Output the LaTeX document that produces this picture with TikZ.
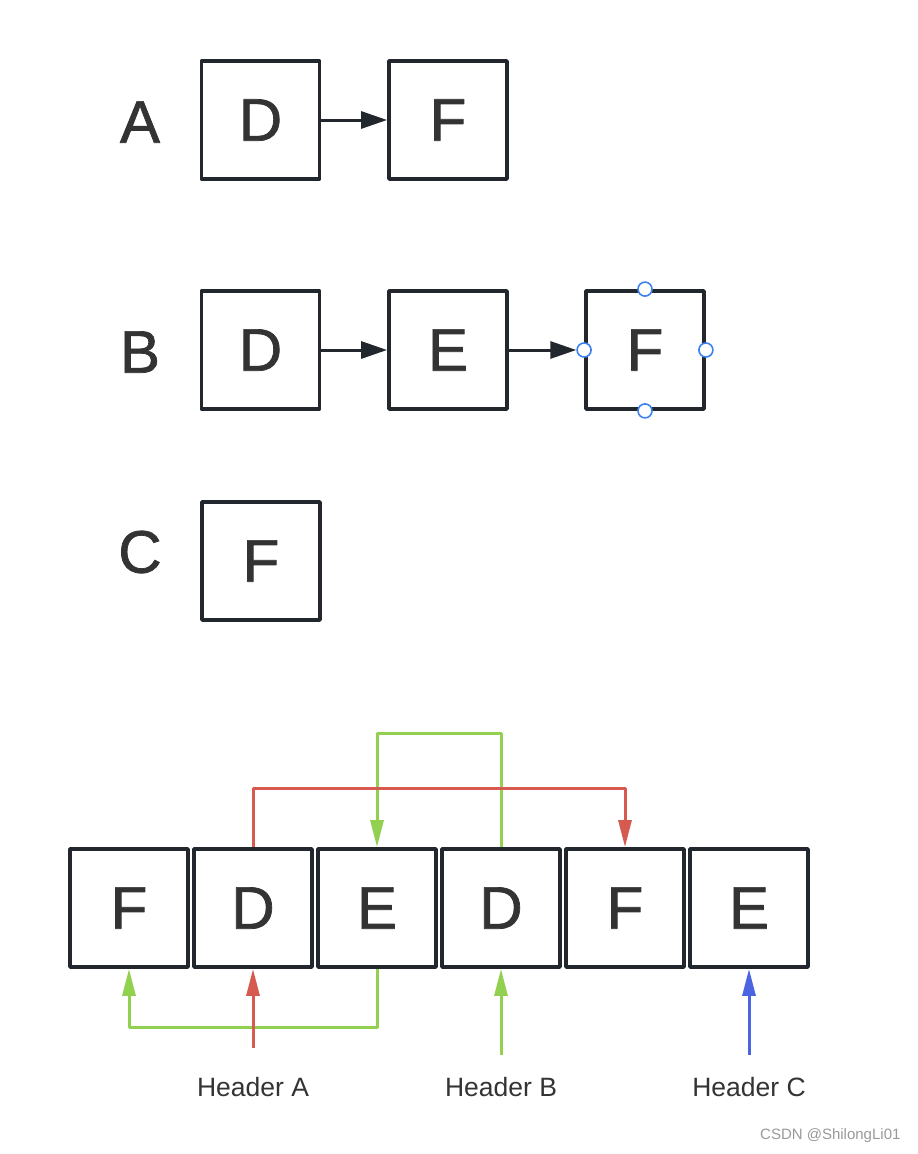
\documentclass[tikz,border=0pt]{standalone}
\usepackage{fontspec}
\setmainfont{Liberation Sans}
\newfontfamily\cellfont[FakeBold=1.2]{Liberation Sans}
\usetikzlibrary{arrows.meta, positioning}
\definecolor{boxline}{HTML}{22272E}
\definecolor{txt}{HTML}{333333}
\definecolor{linkred}{HTML}{D65A4F}
\definecolor{linkgreen}{HTML}{92D050}
\definecolor{linkblue}{HTML}{4B64E1}
\definecolor{handle}{HTML}{3C82F0}

\begin{document}
\begin{tikzpicture}[
  x=1pt, y=-1pt,
  every node/.style={text=txt},
  cell/.style={draw=boxline, line width=3.8pt, line join=round, minimum width=118pt, minimum height=118pt, inner sep=0pt, font=\cellfont\fontsize{60}{60}\selectfont},
  rowname/.style={font=\cellfont\fontsize{60}{60}\selectfont},
  handlept/.style={circle, draw=handle, fill=white, line width=1.6pt, minimum size=14pt, inner sep=0pt},
  arrow/.style={-{Triangle[length=26pt, width=17pt]}, line width=3pt, boxline},
  link/.style={-{Triangle[length=27pt, width=13pt]}, line width=3pt, line join=round},
  header/.style={font=\fontsize{26.5}{26.5}\selectfont},
]
\useasboundingbox (0,0) rectangle (918,1154);

% Row A
\node[rowname] (nameA) at (140,122) {A};
\node[cell] (aD) at (260.5,120) {D};
\node[cell] (aF) at (448,120) {F};
\draw[arrow] (aD.east) -- (aF.west);

% Row B
\node[rowname] (nameB) at (140,352) {B};
\node[cell] (bD) at (260.5,350) {D};
\node[cell] (bE) at (448,350) {E};
\node[cell] (bF) at (645,350) {F};
\node[handlept] (hN) at (bF.north) {};
\node[handlept] (hS) at (bF.south) {};
\node[handlept] (hE) at (bF.east) {};
\node[handlept] (hW) at (bF.west) {};
\draw[arrow] (bD.east) -- (bE.west);
\draw[arrow] (bE.east) -- (hW);

% Row C
\node[rowname] (nameC) at (140,552) {C};
\node[cell] (cF) at (261,561) {F};

% Memory row
\node[cell] (mF1) at (129,908) {F};
\node[cell] (mD1) at (253,908) {D};
\node[cell] (mE1) at (377,908) {E};
\node[cell] (mD2) at (501,908) {D};
\node[cell] (mF2) at (625,908) {F};
\node[cell] (mE2) at (749,908) {E};

% rails
\coordinate (topGreen) at (0,733);
\coordinate (topRed) at (0,788);
\coordinate (botGreen) at (0,1027);

\draw[link, linkgreen] (mD2.north) -- (mD2.north |- topGreen) -- (mE1.north |- topGreen) -- (mE1.north);
\draw[link, linkred] (mD1.north) -- (mD1.north |- topRed) -- (mF2.north |- topRed) -- (mF2.north);
\draw[link, linkgreen] (mE1.south) -- (mE1.south |- botGreen) -- (mF1.south |- botGreen) -- (mF1.south);

% headers
\coordinate (startA) at (253,1048);
\coordinate (startB) at (501,1055);
\coordinate (startC) at (749,1055);
\draw[link, linkred] (startA) -- (mD1.south);
\draw[link, linkgreen] (startB) -- (mD2.south);
\draw[link, linkblue] (startC) -- (mE2.south);

\node[header] (headA) at (253,1087) {Header A};
\node[header] (headB) at (501,1087) {Header B};
\node[header] (headC) at (749,1087) {Header C};

\node[font=\fontsize{15}{15}\selectfont, text=gray!80, anchor=east] (mark) at (904,1136) {CSDN @ShilongLi01};
\end{tikzpicture}
\end{document}
